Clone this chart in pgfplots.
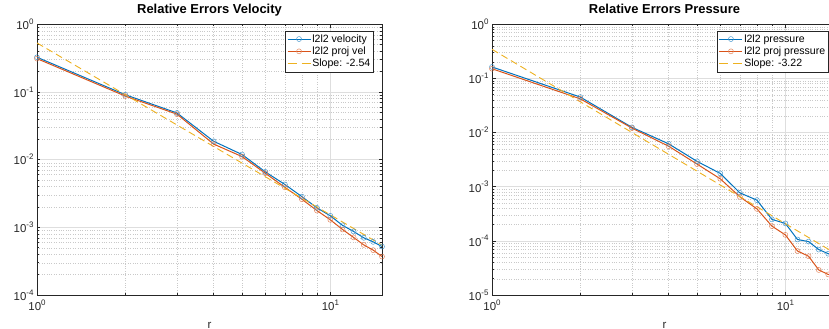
\documentclass[border=0pt]{standalone}
\usepackage{pgfplots}
\pgfplotsset{compat=1.18}
\usepackage{fontspec}
\setmainfont{Liberation Sans}
\definecolor{mblue}{rgb}{0,0.447,0.741}
\definecolor{morange}{rgb}{0.85,0.325,0.098}
\definecolor{myellow}{rgb}{0.929,0.694,0.125}
\definecolor{axgray}{rgb}{0.15,0.15,0.15}
\newcommand{\tp}[1]{10\raisebox{0.85ex}{\fontsize{8}{9}\selectfont #1}}
\pgfplotsset{
  legend image code/.code={\draw[mark repeat=2,mark phase=2,#1] plot coordinates {(0bp,0bp) (11.5bp,0bp) (23bp,0bp)};},
}
\tikzset{
  lblue/.style={color=mblue, line width=1bp, mark=o, mark size=2.5bp, mark options={line width=0.45bp, fill=none, solid, draw=mblue!75}},
  lorange/.style={color=morange, line width=1bp, mark=o, mark size=2.5bp, mark options={line width=0.45bp, fill=none, solid, draw=morange!75}},
  lslope/.style={color=myellow, draw=myellow, line width=0.9bp, dash pattern=on 7bp off 4bp},
}
\begin{document}
\begin{tikzpicture}
\begin{axis}[at={(37bp,34bp)}, anchor=south west,
    xmode=log, ymode=log, scale only axis, width=345bp, height=270.7bp,
    xmin=1, xmax=15,
    axis line style={axgray, line width=0.6bp},
    grid=both,
    major grid style={black!13, line width=0.5bp},
    minor grid style={black!21, dotted, line width=0.4bp},
    tick align=inside, tick style={axgray, line width=0.5bp},
    major tick length=3.5bp, minor tick length=2bp,
    xtick={1,10}, xticklabels={\tp{0},\tp{1}},
    minor xtick={2,3,4,5,6,7,8,9},
    ticklabel style={font=\fontsize{11.5}{13}\selectfont, text=axgray},
    xticklabel style={yshift=-1bp},
    title style={font=\fontsize{13}{15}\selectfont\bfseries, at={(0.5,1)}, anchor=base, yshift=4.5bp},
    xlabel={r},
    xlabel style={font=\fontsize{11.5}{13}\selectfont, text=axgray, at={(0.5,0)}, anchor=base, yshift=-33bp},
    legend cell align=left,
    legend style={draw=axgray, line width=0.5bp, fill=white,
      font=\fontsize{10.6}{12}\selectfont, text=black,
      at={(1,1)}, anchor=north east, xshift=-8.7bp, yshift=-6.4bp,
      inner xsep=1.5bp, inner ysep=1.5bp, row sep=-0.8bp,
      nodes={inner xsep=1.3bp, inner ysep=2bp}},
  title={Relative Errors Velocity},
  ymin=1e-4, ymax=1,
  ytick={1e-4,1e-3,1e-2,1e-1,1},
  yticklabels={\tp{-4},\tp{-3},\tp{-2},\tp{-1},\tp{0}},
  minor ytick={2e-4,3e-4,4e-4,5e-4,6e-4,7e-4,8e-4,9e-4,
               2e-3,3e-3,4e-3,5e-3,6e-3,7e-3,8e-3,9e-3,
               2e-2,3e-2,4e-2,5e-2,6e-2,7e-2,8e-2,9e-2,
               0.2,0.3,0.4,0.5,0.6,0.7,0.8,0.9},
]
\addplot[lblue] coordinates {
(1,0.326) (2,0.091) (3,0.049) (4,0.0187) (5,0.0119) (6,0.0066) (7,0.0043)
(8,0.00284) (9,0.00194) (10,0.00148) (11,0.00107) (12,0.00087) (13,0.00070)
(14,0.00061) (15,0.00052)};
\addlegendentry{l2l2 velocity}
\addplot[lorange] coordinates {
(1,0.311) (2,0.087) (3,0.047) (4,0.0170) (5,0.0111) (6,0.0063) (7,0.0039)
(8,0.0026) (9,0.00177) (10,0.00129) (11,0.00093) (12,0.00071) (13,0.00055)
(14,0.00046) (15,0.00037)};
\addlegendentry{l2l2 proj vel}
\addplot[lslope, legend image code/.code={\draw[myellow, line width=1bp, dash pattern=on 9bp off 5bp] (0bp,0bp) -- (23bp,0bp);}] coordinates {(1,0.53) (15,0.000546)};
\addlegendentry{Slope: -2.54}
\end{axis}
\begin{axis}[at={(492bp,34bp)}, anchor=south west,
    xmode=log, ymode=log, scale only axis, width=345bp, height=270.7bp,
    xmin=1, xmax=15,
    axis line style={axgray, line width=0.6bp},
    grid=both,
    major grid style={black!13, line width=0.5bp},
    minor grid style={black!21, dotted, line width=0.4bp},
    tick align=inside, tick style={axgray, line width=0.5bp},
    major tick length=3.5bp, minor tick length=2bp,
    xtick={1,10}, xticklabels={\tp{0},\tp{1}},
    minor xtick={2,3,4,5,6,7,8,9},
    ticklabel style={font=\fontsize{11.5}{13}\selectfont, text=axgray},
    xticklabel style={yshift=-1bp},
    title style={font=\fontsize{13}{15}\selectfont\bfseries, at={(0.5,1)}, anchor=base, yshift=4.5bp},
    xlabel={r},
    xlabel style={font=\fontsize{11.5}{13}\selectfont, text=axgray, at={(0.5,0)}, anchor=base, yshift=-33bp},
    legend cell align=left,
    legend style={draw=axgray, line width=0.5bp, fill=white,
      font=\fontsize{10.6}{12}\selectfont, text=black,
      at={(1,1)}, anchor=north east, xshift=-8.7bp, yshift=-6.4bp,
      inner xsep=1.5bp, inner ysep=1.5bp, row sep=-0.8bp,
      nodes={inner xsep=1.3bp, inner ysep=2bp}},
  title={Relative Errors Pressure},
  ymin=1e-5, ymax=1,
  ytick={1e-5,1e-4,1e-3,1e-2,1e-1,1},
  yticklabels={\tp{-5},\tp{-4},\tp{-3},\tp{-2},\tp{-1},\tp{0}},
  minor ytick={2e-5,3e-5,4e-5,5e-5,6e-5,7e-5,8e-5,9e-5,
               2e-4,3e-4,4e-4,5e-4,6e-4,7e-4,8e-4,9e-4,
               2e-3,3e-3,4e-3,5e-3,6e-3,7e-3,8e-3,9e-3,
               2e-2,3e-2,4e-2,5e-2,6e-2,7e-2,8e-2,9e-2,
               0.2,0.3,0.4,0.5,0.6,0.7,0.8,0.9},
]
\addplot[lblue] coordinates {
(1,0.163) (2,0.0453) (3,0.0125) (4,0.0062) (5,0.00294) (6,0.00176) (7,0.00077)
(8,0.000565) (9,0.000249) (10,0.00021) (11,0.000106) (12,0.000097) (13,0.000069)
(14,0.000058) (15,0.000050)};
\addlegendentry{l2l2 pressure}
\addplot[lorange] coordinates {
(1,0.151) (2,0.042) (3,0.0121) (4,0.0056) (5,0.00262) (6,0.0014) (7,0.00065)
(8,0.00039) (9,0.000187) (10,0.000129) (11,0.000065) (12,0.000052) (13,0.000029)
(14,0.000024) (15,0.000022)};
\addlegendentry{l2l2 proj pressure}
\addplot[lslope, legend image code/.code={\draw[myellow, line width=1bp, dash pattern=on 9bp off 5bp] (0bp,0bp) -- (23bp,0bp);}] coordinates {(1,0.345) (15,0.0000563)};
\addlegendentry{Slope: -3.22}
\end{axis}
\pgfresetboundingbox
\path[use as bounding box] (0,0) rectangle (829bp,329bp);
\end{tikzpicture}
\end{document}
